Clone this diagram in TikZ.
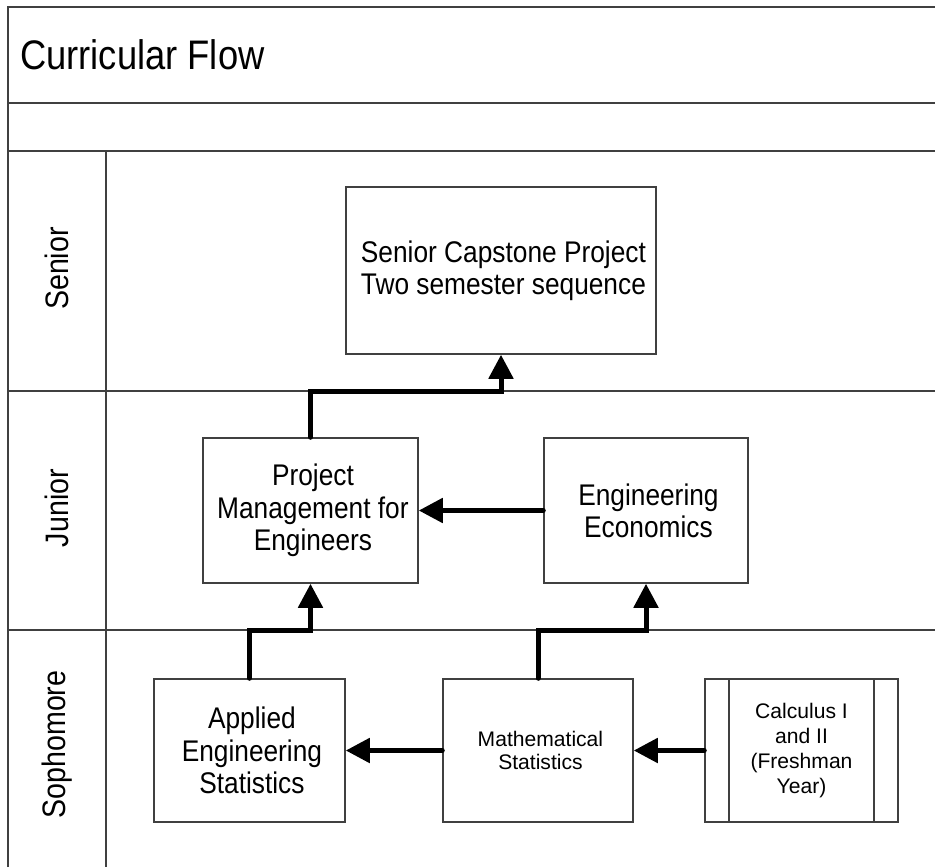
\documentclass[tikz,border=0pt]{standalone}
\usepackage{fontspec}
\setmainfont{Liberation Sans}
\newfontfamily\tallfont[FakeStretch=0.88]{Liberation Sans}
\usepackage{xcolor}
\definecolor{Frame}{RGB}{64,64,64}
\definecolor{Black}{RGB}{0,0,0}
\usetikzlibrary{arrows.meta}

\newcommand{\titlefont}		{ \tallfont\fontsize{23.5}{27}\selectfont }
\newcommand{\lanefont}		{ \tallfont\fontsize{18.5}{21}\selectfont }
\newcommand{\coursefont}	{ \tallfont\fontsize{17}{18.4}\selectfont }
\newcommand{\smallcourse}	{ \fontsize{12}{12.8}\selectfont }

\tikzset{
	lane/.style={draw=Frame, line width=0.3mm},
	course/.style={draw=Frame, line width=0.3mm, align=center, inner sep=0pt, font=\coursefont},
	subproc/.style={course, path picture={
		\draw[Frame, line width=0.3mm] ([xshift=4.8mm]path picture bounding box.north west) -- ([xshift=4.8mm]path picture bounding box.south west);
		\draw[Frame, line width=0.3mm] ([xshift=-4.8mm]path picture bounding box.north east) -- ([xshift=-4.8mm]path picture bounding box.south east);}},
	flow/.style={draw=Black, line width=1mm, line cap=round, -{Triangle[length=4.8mm, width=4.8mm]}}
}

\begin{document}
\begin{tikzpicture}[x=0.2mm, y=-0.2mm]

		\useasboundingbox (0,0) rectangle (935,867);

		% Pool and lanes
		\draw[lane] (8,867) -- (8,7) -- (935,7);
		\draw[lane] (8,103) -- (935,103);
		\draw[lane] (8,151) -- (935,151);
		\draw[lane] (8,391) -- (935,391);
		\draw[lane] (8,630) -- (935,630);
		\draw[lane] (106,151) -- (106,867);
		\coordinate (sj) at (106,391);
		\coordinate (js) at (106,630);

		% Title
		\node[anchor=west, inner sep=0pt, font=\titlefont] (title) at (15,55) {Curricular Flow};

		% Lane names
		\node[rotate=90, font=\lanefont] (senior) at (57,271) {Senior};
		\node[rotate=90, font=\lanefont] (junior) at (57,510.5) {Junior};
		\node[rotate=90, font=\lanefont] (sophomore) at (57,747) {Sophomore};

		% Courses
		\node[course, minimum width=62mm, minimum height=33.4mm] (cap) at (501,270.5) {Senior Capstone Project\\Two semester sequence};
		\node[course, minimum width=43mm, minimum height=29mm] (pm) at (310.5,510.5) {Project\\Management for\\Engineers};
		\node[course, minimum width=40.8mm, minimum height=29mm] (ee) at (646,510.5) {Engineering\\Economics};
		\node[course, minimum width=38.2mm, minimum height=28.6mm] (aes) at (249.5,750.5) {Applied\\Engineering\\Statistics};
		\node[course, minimum width=38mm, minimum height=28.6mm, font=\smallcourse] (ms) at (538,750.5) {Mathematical\\Statistics};
		\node[subproc, minimum width=38.6mm, minimum height=28.6mm, font=\fontsize{12}{14.4}\selectfont] (calc) at (801.5,750.5) {Calculus I\\and II\\(Freshman\\Year)};

		% Prerequisites
		\draw[flow] (pm.north) -- (pm.north |- sj) -| (cap.south);
		\draw[flow] (ee.west) -- (pm.east);
		\draw[flow] (aes.north) -- (aes.north |- js) -| (pm.south);
		\draw[flow] (ms.north) -- (ms.north |- js) -| (ee.south);
		\draw[flow] (ms.west) -- (aes.east);
		\draw[flow] (calc.west) -- (ms.east);

\end{tikzpicture}
\end{document}
